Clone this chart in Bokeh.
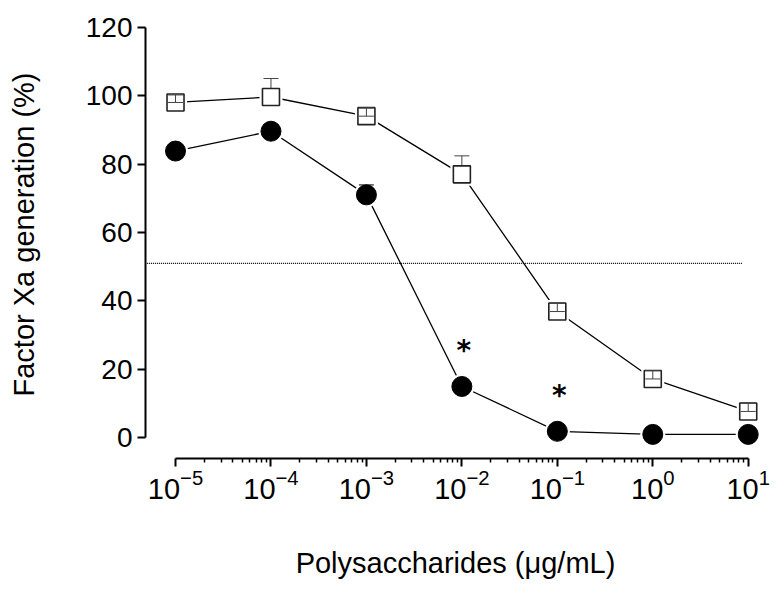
from bokeh.plotting import figure
from bokeh.models import FixedTicker, LogTickFormatter, LabelSet, ColumnDataSource, LinearAxis
from bokeh.core.properties import value
from bokeh.embed import file_html
from bokeh.resources import INLINE

# ---- data ----
conc = [1e-5, 1e-4, 1e-3, 1e-2, 1e-1, 1e0, 1e1]
filled_vals = [83.8, 89.6, 71.0, 15.0, 1.9, 1.0, 1.0]
filled_err = [1.5, 1.5, 2.9, 1.5, 1.0, 0.5, 0.5]
open_vals = [98.0, 99.6, 94.0, 77.0, 36.9, 17.2, 7.7]
open_err = [2.2, 5.4, 2.4, 5.4, 2.4, 2.4, 2.4]
cutoff_x = [10 ** -5.3, 10 ** 0.94]
cutoff_level = 51.0
star_x = [1e-2, 1e-1]
y_ticks = [0, 20, 40, 60, 80, 100, 120]
x_ticks = [1e-5, 1e-4, 1e-3, 1e-2, 1e-1, 1e0, 1e1]

FONT = "Liberation Sans"
Y0, Y1 = -6.05, 124.88
W, H = 775, 590
MB_L, MB_R, MB_T, MB_B = 145, 10, 10, 132

p = figure(width=W, height=H, x_axis_type="log",
           x_range=(10 ** -5.3145, 10 ** 1.181), y_range=(Y0, Y1),
           output_backend="svg", toolbar_location=None,
           min_border_left=MB_L, min_border_right=MB_R,
           min_border_top=MB_T, min_border_bottom=MB_B)
p.outline_line_color = None
p.grid.visible = False
p.background_fill_color = "white"

# axes
minor = [m * 10 ** k for k in range(-5, 1) for m in range(2, 10)]
p.xaxis.ticker = FixedTicker(ticks=x_ticks, minor_ticks=minor)
p.xaxis.formatter = LogTickFormatter()
p.yaxis.ticker = FixedTicker(ticks=y_ticks, minor_ticks=[])
p.xaxis.bounds = (x_ticks[0], x_ticks[-1])
p.yaxis.bounds = (y_ticks[0], y_ticks[-1])
for ax in (p.xaxis, p.yaxis):
    ax.axis_line_width = 2
    ax.axis_line_color = "black"
    ax.major_tick_line_width = 2
    ax.major_tick_line_color = "black"
    ax.major_tick_in = 0
    ax.major_tick_out = 8
    ax.minor_tick_in = 0
    ax.minor_tick_out = 4
    ax.minor_tick_line_width = 1.5
    ax.minor_tick_line_color = "black"
    ax.major_label_text_font = FONT
    ax.major_label_text_color = "black"
p.yaxis.major_label_text_font_size = "28px"
p.xaxis.major_label_text_font_size = "29px"
p.yaxis.major_label_standoff = 5
p.xaxis.major_label_standoff = 2

# x-axis title
p.xaxis.axis_label = "Polysaccharides (\u03bcg/mL)"
p.xaxis.axis_label_text_font = FONT
p.xaxis.axis_label_text_font_size = "29px"
p.xaxis.axis_label_text_font_style = "normal"
p.xaxis.axis_label_text_color = "black"
p.xaxis.axis_label_standoff = 45

# y-axis title: carried by a bare outer axis whose span is centred on the title
title_axis = LinearAxis(ticker=FixedTicker(ticks=[]), bounds=(9.2, 120),
                        axis_line_color=None, major_tick_line_color=None,
                        minor_tick_line_color=None, major_tick_out=0, minor_tick_out=0,
                        major_label_standoff=0, major_label_text_font_size="0px",
                        axis_label="Factor Xa generation (%)",
                        axis_label_standoff=43,
                        axis_label_text_font=FONT, axis_label_text_font_size="29px",
                        axis_label_text_font_style="normal",
                        axis_label_text_color="black")
p.add_layout(title_axis, "left")

# dotted reference line
p.line(cutoff_x, [cutoff_level, cutoff_level], line_color="black",
       line_width=1.2, line_dash="1 1")

# connecting lines
p.line(conc, open_vals, line_color="black", line_width=1.3)
p.line(conc, filled_vals, line_color="black", line_width=1.3)

CIRC = 20
SQ = 17
# white halos (gap between line and symbol)
p.scatter(conc, filled_vals, marker="circle", size=CIRC + 5,
          fill_color="white", line_color=None)
p.scatter(conc, open_vals, marker="square", size=SQ + 6,
          fill_color="white", line_color=None)

ERRC = "#444444"
# error bars of open squares (behind symbols)
o_up = [v + e for v, e in zip(open_vals, open_err)]
p.segment(conc, open_vals, conc, o_up, line_color=ERRC, line_width=1)
p.scatter(conc, o_up, marker="dash", size=15, line_color=ERRC, line_width=1)
# error bars of filled circles
f_up = [v + e for v, e in zip(filled_vals, filled_err)]
p.segment(conc, filled_vals, conc, f_up, line_color="black", line_width=1)
p.scatter(conc, f_up, marker="dash", size=15, line_color="black", line_width=1)

# symbols
p.scatter(conc, filled_vals, marker="circle", size=CIRC,
          fill_color="black", line_color="black")
p.scatter(conc, open_vals, marker="square", size=SQ,
          fill_color="white", line_color="#222222", line_width=1.6)

# short error bars visible inside the hollow squares
px_per_unit = (H - MB_T - MB_B) / (Y1 - Y0)
inner = [i for i, e in enumerate(open_err) if e * px_per_unit <= SQ / 2 + 0.5]
ix = [conc[i] for i in inner]
iv = [open_vals[i] for i in inner]
iu = [o_up[i] for i in inner]
p.segment(ix, iv, ix, iu, line_color=ERRC, line_width=1)
p.scatter(ix, iv, marker="dash", size=SQ - 2, line_color=ERRC, line_width=1)
p.scatter(ix, iu, marker="dash", size=SQ - 2, line_color=ERRC, line_width=1)

# significance asterisks above the filled circles
star_y = [filled_vals[conc.index(x)] for x in star_x]
stars = ColumnDataSource(dict(x=star_x, y=star_y, t=["*"] * len(star_x)))
p.add_layout(LabelSet(x="x", y="y", text="t", source=stars, x_offset=2, y_offset=26,
                      text_align="center", text_baseline="alphabetic",
                      text_font=value("DejaVu Sans"), text_font_style="bold",
                      text_font_size="28px", text_color="black"))

open("out.html", "w").write(file_html(p, INLINE))
